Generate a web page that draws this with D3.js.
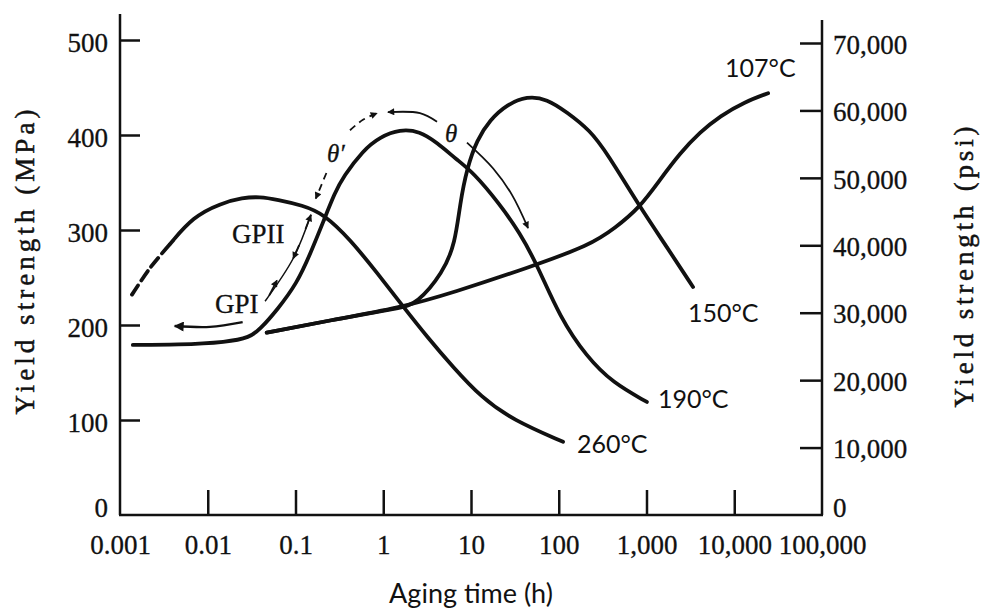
<!DOCTYPE html>
<html>
<head>
<meta charset="utf-8">
<title>Yield strength vs aging time</title>
<style>
body { margin: 0; background: #fff; }
.curve { fill: none; stroke: #111; stroke-width: 3.8px; stroke-linecap: round; stroke-linejoin: round; }
.frame { stroke: #111; stroke-width: 2.5px; }
.axis line { stroke: #111; stroke-width: 2.5px; }
.axis text { font-family: "Liberation Serif", serif; font-size: 27px; fill: #111; stroke: #111; stroke-width: 0.3px; }
.sans { font-family: Lato, "DejaVu Sans", sans-serif; font-size: 25px; fill: #111; }
.serif { font-family: "Liberation Serif", serif; font-size: 27px; fill: #111; stroke: #111; stroke-width: 0.3px; }
.title { font-family: "Liberation Serif", serif; font-size: 27px; fill: #111; stroke: #111; stroke-width: 0.5px; }
.note { fill: none; stroke: #111; stroke-width: 1.8px; }
</style>
</head>
<body>
<svg width="984" height="612"></svg>
<script src="https://cdn.jsdelivr.net/npm/d3@7"></script>
<script>

// axes
var xTicks = [0.001, 0.01, 0.1, 1, 10, 100, 1000, 10000, 100000];
var xTickLabels = ["0.001", "0.01", "0.1", "1", "10", "100", "1,000", "10,000", "100,000"];
var mpaTicks = [0, 100, 200, 300, 400, 500];
var psiTicks = [0, 10000, 20000, 30000, 40000, 50000, 60000, 70000];
var psiTickLabels = ["0", "10,000", "20,000", "30,000", "40,000", "50,000", "60,000", "70,000"];

// curves: [aging time (h), yield strength (MPa)]
var c260dash = [[0.00137, 232], [0.0022, 260], [0.0037, 285]];
var c260 = [[0.0037, 285], [0.0068, 314], [0.014, 328], [0.025, 334], [0.039, 335], [0.062, 332],
            [0.12, 326], [0.21, 317], [0.42, 290], [0.85, 255], [1.7, 219], [3.2, 187],
            [6.2, 156], [13, 124], [30, 100], [112, 77]];
var c190 = [[0.0014, 179], [0.0045, 179], [0.017, 182], [0.030, 187], [0.039, 195], [0.062, 216],
            [0.104, 244], [0.146, 274], [0.21, 310], [0.28, 339], [0.35, 356], [0.59, 384],
            [0.92, 398], [1.55, 406], [2.6, 404], [4.1, 392], [6.9, 374], [10.5, 361],
            [21, 328], [36, 297], [57, 263], [103, 208], [210, 166], [415, 139], [1010, 119]];
var c150 = [[0.047, 192], [0.25, 205], [1.55, 218], [2.4, 222], [4.8, 255], [6.6, 286],
            [7.5, 328], [9.0, 365], [11.7, 395], [16.5, 416], [25.7, 432], [43.5, 441],
            [73.5, 438], [124, 424], [227, 405], [355, 381], [843, 324], [1710, 282], [3390, 240]];
var c107 = [[0.047, 192], [0.25, 205], [1.55, 218], [6.2, 234], [47, 261], [227, 284],
            [438, 302], [843, 324], [1426, 353], [2410, 381], [4074, 403], [6880, 420],
            [13270, 435], [24300, 444]];

// annotation arrows, same units
var gpiArrow = [[0.025, 203], [0.0106, 198], [0.0042, 199]];
var gpLine = [[0.045, 225], [0.094, 270], [0.15, 316]];
var gpUp1 = [[0.05, 231], [0.0615, 247]];
var gpDown = [[0.11, 284], [0.094, 270]];
var gpUp2 = [[0.13, 301], [0.15, 316]];
var thetaPrimeDown = [[0.225, 360], [0.17, 333]];
var thetaPrimeUp = [[0.418, 405], [0.587, 416], [0.849, 423]];
var thetaLeft = [[4.1, 414], [2.62, 423], [1.13, 424]];
var thetaRight = [[9.0, 392], [17.8, 365], [29.3, 337], [44.7, 302]];

// text labels: [time, MPa, text]
var curveLabels = [[7850, 461, "107°C"], [2970, 203, "150°C"], [1352, 112.6, "190°C"], [161, 65.3, "260°C"]];
var phaseLabels = [[0.0189, 286.3, "GPII"], [0.0121, 212.6, "GPI"]];
var thetaLabels = [[0.229, 371.6, "θ′"], [5.05, 392.6, "θ"]];

var svg = d3.select("svg");

var x = d3.scaleLog().domain([0.001, 100000]).range([120, 822]);
var y = d3.scaleLinear().domain([0, 500]).range([515, 40]);
var yPsi = d3.scaleLinear().domain([0, 70000]).range([515, 43]);

var defs = svg.append("defs");
function marker(id, w, h) {
  defs.append("marker")
      .attr("id", id)
      .attr("viewBox", "0 0 10 10")
      .attr("refX", 9).attr("refY", 5)
      .attr("markerWidth", w).attr("markerHeight", h)
      .attr("markerUnits", "userSpaceOnUse")
      .attr("orient", "auto")
    .append("path")
      .attr("d", "M0,0 L10,5 L0,10 z")
      .attr("fill", "#111");
}
marker("big", 14, 10);
marker("small", 10, 7);

// frame lines
svg.append("line").attr("class", "frame").attr("x1", x(0.001)).attr("x2", x(0.001)).attr("y1", 14).attr("y2", y(0));
svg.append("line").attr("class", "frame").attr("x1", x(100000)).attr("x2", x(100000)).attr("y1", 20).attr("y2", y(0));
svg.append("line").attr("class", "frame").attr("x1", x(0.001) - 1).attr("x2", x(100000) + 1).attr("y1", y(0)).attr("y2", y(0));

// x axis
var xAxis = svg.append("g").attr("class", "axis")
    .attr("transform", "translate(0," + y(0) + ")")
    .call(d3.axisBottom(x).tickValues(xTicks).tickSize(-25).tickSizeOuter(0).tickPadding(20)
      .tickFormat(function(d, i) { return xTickLabels[i]; }));
xAxis.select(".domain").remove();
xAxis.selectAll(".tick line").filter(function(d) { return d === 0.001 || d === 100000; }).remove();

// left axis
var yAxis = svg.append("g").attr("class", "axis")
    .attr("transform", "translate(" + x(0.001) + ",0)")
    .call(d3.axisLeft(y).tickValues(mpaTicks).tickSize(-20).tickSizeOuter(0).tickPadding(12));
yAxis.select(".domain").remove();
yAxis.selectAll(".tick line").filter(function(d) { return d === 0; }).remove();
yAxis.selectAll(".tick text").attr("dy", function(d) { return d === 0 ? "0.05em" : "0.42em"; });

// right axis
var psiAxis = svg.append("g").attr("class", "axis")
    .attr("transform", "translate(" + x(100000) + ",0)")
    .call(d3.axisRight(yPsi).tickValues(psiTicks).tickSize(-22).tickSizeOuter(0).tickPadding(11)
      .tickFormat(function(d, i) { return psiTickLabels[i]; }));
psiAxis.select(".domain").remove();
psiAxis.selectAll(".tick line").filter(function(d) { return d === 0; }).remove();
psiAxis.selectAll(".tick text").attr("dy", function(d) { return d === 0 ? "0.05em" : "0.38em"; });

// axis titles
svg.append("text").attr("class", "title")
    .attr("transform", "translate(34,262) rotate(-90)")
    .attr("text-anchor", "middle")
    .attr("textLength", 305).attr("lengthAdjust", "spacing")
    .text("Yield strength (MPa)");
svg.append("text").attr("class", "title")
    .attr("transform", "translate(973,267) rotate(-90)")
    .attr("text-anchor", "middle")
    .attr("textLength", 281).attr("lengthAdjust", "spacing")
    .text("Yield strength (psi)");
svg.append("text").attr("class", "sans")
    .attr("x", 471).attr("y", 603)
    .attr("text-anchor", "middle")
    .style("font-size", "27px")
    .text("Aging time (h)");

// curves (smoothed through the read-off points)
var line = d3.line()
    .x(function(d) { return x(d[0]); })
    .y(function(d) { return y(d[1]); })
    .curve(d3.curveBasis);

var arc = d3.line()
    .x(function(d) { return x(d[0]); })
    .y(function(d) { return y(d[1]); })
    .curve(d3.curveCatmullRom.alpha(0.5));

[c260, c190, c150, c107].forEach(function(c) {
  svg.append("path").attr("class", "curve").attr("d", line(c));
});
svg.append("path").attr("class", "curve")
    .attr("stroke-dasharray", "11,6")
    .attr("d", arc(c260dash));

// annotation arrows
svg.append("path").attr("class", "note").style("stroke-width", "2.4px")
    .attr("marker-end", "url(#big)").attr("d", arc(gpiArrow));
svg.append("path").attr("class", "note").style("stroke-width", "1.5px").attr("d", arc(gpLine));
[gpUp1, gpDown, gpUp2, thetaLeft, thetaRight].forEach(function(a) {
  svg.append("path").attr("class", "note").attr("marker-end", "url(#small)").attr("d", arc(a));
});
[thetaPrimeDown, thetaPrimeUp].forEach(function(a) {
  svg.append("path").attr("class", "note").attr("stroke-dasharray", "7,5")
      .attr("marker-end", "url(#small)").attr("d", arc(a));
});

// labels
svg.selectAll(".clabel").data(curveLabels).enter().append("text")
    .attr("class", "sans clabel")
    .attr("x", function(d) { return x(d[0]); })
    .attr("y", function(d) { return y(d[1]); })
    .text(function(d) { return d[2]; });
svg.selectAll(".plabel").data(phaseLabels).enter().append("text")
    .attr("class", "serif plabel")
    .attr("x", function(d) { return x(d[0]); })
    .attr("y", function(d) { return y(d[1]); })
    .text(function(d) { return d[2]; });
svg.selectAll(".tlabel").data(thetaLabels).enter().append("text")
    .attr("class", "serif tlabel")
    .style("font-style", "italic")
    .style("font-size", "25px")
    .attr("x", function(d) { return x(d[0]); })
    .attr("y", function(d) { return y(d[1]); })
    .text(function(d) { return d[2]; });

</script>
</body>
</html>
